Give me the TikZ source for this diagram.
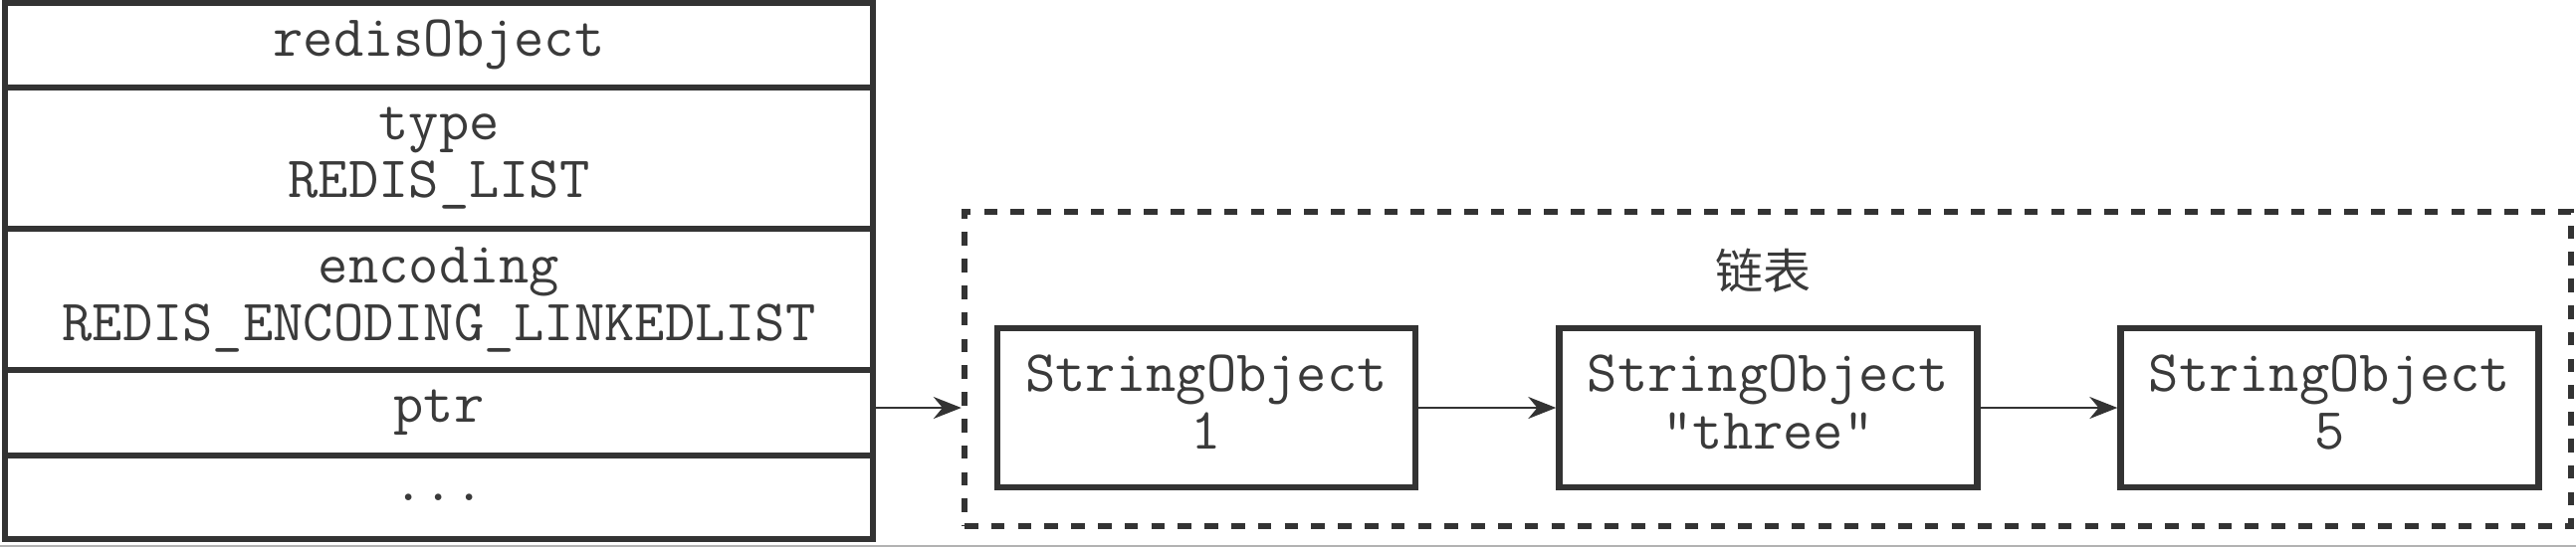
\documentclass[tikz,border=0pt]{standalone}
\usepackage{fontspec}
\newfontfamily\cjkfont{Noto Sans CJK SC}
\usetikzlibrary{arrows.meta}
\definecolor{ink}{HTML}{333333}
\definecolor{txt}{HTML}{3A3A3A}
\begin{document}
\begin{tikzpicture}[x=0.25pt,y=-0.25pt,
  font=\ttfamily\fontsize{14.7}{14.5}\selectfont,
  every node/.style={text=txt, inner sep=0pt, align=center},
  rowbox/.style={draw=ink, line width=1.6pt, minimum width=218pt},
  objbox/.style={draw=ink, line width=1.6pt, minimum width=105pt, minimum height=40pt, text depth=3pt},
  groupbox/.style={draw=ink, line width=1.6pt, dash pattern=on 3.4pt off 3.3pt, minimum width=403.5pt, minimum height=79pt},
  link/.style={draw=ink, line width=0.5pt, -{Stealth[length=7pt,width=5.5pt]}}]
\useasboundingbox (0,0) rectangle (2588,550);
% scan edge
\draw[gray!60, line width=0.5pt] (0,549) -- (2588,549);
% redisObject structure
\node[rowbox, minimum height=21.4pt] (head) at (441,45.25) {redisObject};
\node[rowbox, minimum height=35.5pt] (type) at (441,159) {type\\REDIS\_LIST};
\node[rowbox, minimum height=35.5pt] (enc) at (441,301) {encoding\\REDIS\_ENCODING\_LINKEDLIST};
\node[rowbox, minimum height=21.5pt] (ptr) at (441,415) {ptr};
\node[rowbox, minimum height=21pt] (more) at (441,500) {...};
% linked list
\node[groupbox] (list) at (1776,371) {};
\node[font=\cjkfont\fontsize{12}{12}\selectfont] (title) at (1771,272) {链表};
\node[objbox] (s1) at (1212,410) {StringObject\\1};
\node[objbox] (s2) at (1776.5,410) {StringObject\\"three"};
\node[objbox] (s3) at (2340.5,410) {StringObject\\5};
% connectors
\draw[link] (ptr.east |- s1.west) -- (list.west |- s1.west);
\draw[link] (s1) -- (s2);
\draw[link] (s2) -- (s3);
\end{tikzpicture}
\end{document}
